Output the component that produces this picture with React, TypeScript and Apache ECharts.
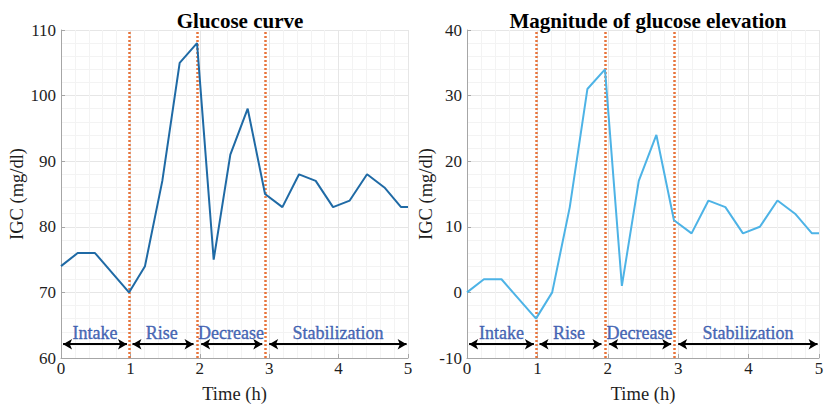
import React, { useEffect, useRef } from "react";
import * as echarts from "echarts";

const times = [0, 0.24, 0.49, 0.98, 1.21, 1.46, 1.71, 1.96, 2.2, 2.44, 2.69, 2.94, 3.19, 3.43, 3.67, 3.92, 4.16, 4.41, 4.66, 4.9, 5];
const glucose = [74, 76, 76, 70, 74, 87, 105, 108, 75, 91, 98, 85, 83, 88, 87, 83, 84, 88, 86, 83, 83];
const elevation = [0, 2, 2, -4, 0, 13, 31, 34, 1, 17, 24, 11, 9, 14, 13, 9, 10, 14, 12, 9, 9];

const phaseNames = ["Intake", "Rise", "Decrease", "Stabilization"];
const phaseStart = [0.03, 1.03, 2.02, 3.0];
const phaseEnd = [0.95, 1.91, 2.9, 4.98];
const phaseLabelX = [0.49, 1.45, 2.45, 3.99];
const boundaries = [0.98, 1.96, 2.94];

const titles = ["Glucose curve", "Magnitude of glucose elevation"];
const yMins = [60, -10];
const yMaxs = [110, 40];
const xTicks = [0, 1, 2, 3, 4, 5];

const FONT = "Liberation Serif";
const TXT = "#1e1e1e";

export default function App() {
  const ref = useRef<HTMLDivElement>(null);
  useEffect(() => {
    const chart = echarts.init(ref.current!, null, { renderer: "svg" });
    const grids = [
      { left: 61, top: 30, width: 347, height: 332 },
      { left: 467, top: 30, width: 352, height: 332 },
    ];
    const xAxes = grids.map((_, i) => ({
      type: "value",
      gridIndex: i,
      min: xTicks[0],
      max: xTicks[xTicks.length - 1],
      interval: 1,
      name: "Time (h)",
      nameLocation: "middle",
      nameGap: 26,
      nameTextStyle: { fontFamily: FONT, fontSize: 18.5, color: TXT },
      axisLine: { show: true, onZero: false, lineStyle: { color: "#a6a6a6", width: 1 } },
      axisTick: { show: true, inside: true, length: 4, lineStyle: { color: "#a6a6a6" } },
      axisLabel: { fontFamily: FONT, fontSize: 17, color: TXT, margin: 2 },
      splitLine: { show: true, lineStyle: { color: "#e6e6e6", width: 1 } },
      minorTick: { show: false, splitNumber: 5 },
      minorSplitLine: { show: true, lineStyle: { color: "#f3f3f3", width: 1 } },
    }));
    const yAxes = grids.map((_, i) => ({
      type: "value",
      gridIndex: i,
      min: yMins[i],
      max: yMaxs[i],
      interval: 10,
      name: "IGC (mg/dl)",
      nameLocation: "middle",
      nameGap: i === 0 ? 33 : 29,
      nameTextStyle: { fontFamily: FONT, fontSize: 18.5, color: TXT },
      axisLine: { show: true, onZero: false, lineStyle: { color: "#a6a6a6", width: 1 } },
      axisTick: { show: true, inside: true, length: 4, lineStyle: { color: "#a6a6a6" } },
      axisLabel: { fontFamily: FONT, fontSize: 17, color: TXT, margin: 5 },
      splitLine: { show: true, lineStyle: { color: "#e6e6e6", width: 1 } },
      minorTick: { show: false, splitNumber: 5 },
      minorSplitLine: { show: true, lineStyle: { color: "#f3f3f3", width: 1 } },
    }));
    const lineColors = ["#1f6aa5", "#4db3e6"];
    const seriesData = [glucose, elevation];
    const series: any[] = [];
    seriesData.forEach((vals, i) => {
      const arrowY = yMins[i] + 2.1;
      series.push({
        type: "line",
        xAxisIndex: i,
        yAxisIndex: i,
        data: times.map((t, k) => [t, vals[k]]),
        symbol: "none",
        lineStyle: { color: lineColors[i], width: 2 },
        z: 5,
        markLine: {
          silent: true,
          symbol: "none",
          label: { show: false },
          lineStyle: { color: "#e8743b", type: [2, 2], width: 2.5 },
          data: boundaries.map((b) => ({ xAxis: b })),
        },
      });
      series.push({
        type: "line",
        xAxisIndex: i,
        yAxisIndex: i,
        data: [],
        markLine: {
          silent: true,
          symbol: ["arrow", "arrow"],
          symbolSize: [8, 9],
          label: { show: false },
          lineStyle: { color: "#000", type: "solid", width: 2 },
          data: phaseNames.map((_, k) => [
            { coord: [phaseStart[k], arrowY] },
            { coord: [phaseEnd[k], arrowY] },
          ]),
        },
      });
      series.push({
        type: "scatter",
        xAxisIndex: i,
        yAxisIndex: i,
        symbolSize: 0,
        itemStyle: { color: "transparent" },
        data: phaseNames.map((n, k) => [phaseLabelX[k], yMins[i] + 3.8, n]),
        label: {
          show: true,
          position: "inside",
          formatter: (p: any) => p.data[2],
          fontFamily: FONT,
          fontSize: 18,
          color: "#2248a6",
          textBorderWidth: 0.4,
          textBorderColor: "#2248a6",
        },
        z: 6,
      });
    });
    chart.setOption({
      animation: false,
      backgroundColor: "#ffffff",
      title: titles.map((t, i) => ({
        text: t,
        left: i === 0 ? 235 : 643,
        textAlign: "center",
        top: 5,
        textStyle: { fontFamily: FONT, fontSize: 21, fontWeight: "bold", color: "#000" },
      })),
      grid: grids,
      xAxis: xAxes,
      yAxis: yAxes,
      series,
    });
    return () => chart.dispose();
  }, []);
  return (
    <div
      ref={ref}
      style={{ position: "absolute", left: 0, top: 0, width: 829, height: 408 }}
    />
  );
}
